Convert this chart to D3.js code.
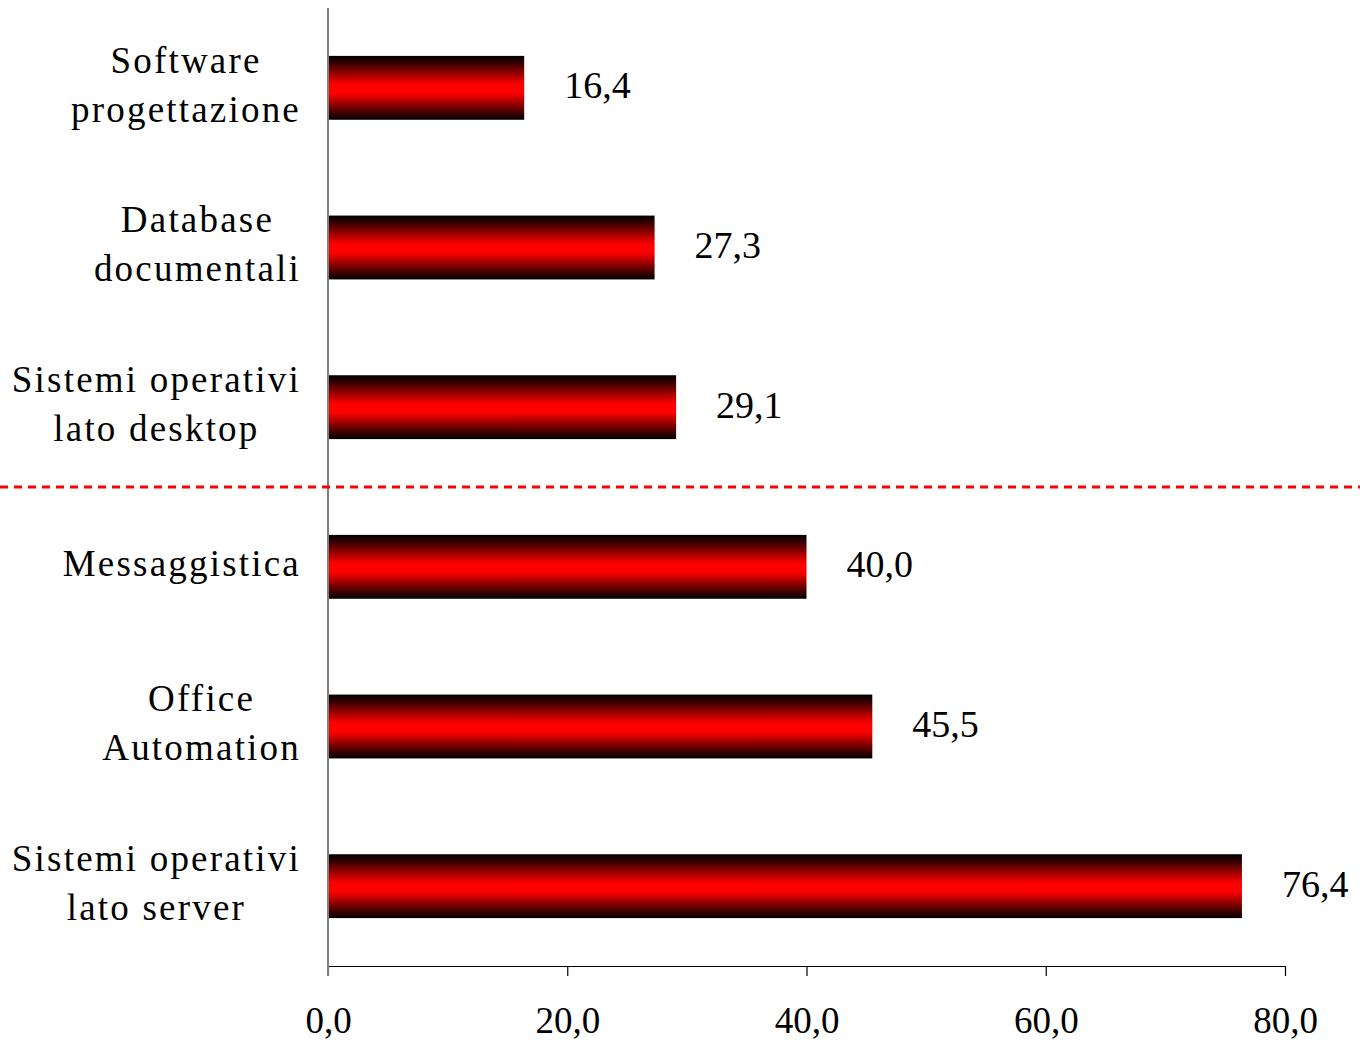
<!DOCTYPE html>
<html>
<head>
<meta charset="utf-8">
<script src="https://cdn.jsdelivr.net/npm/d3@7"></script>
<style>
  html, body { margin: 0; padding: 0; background: #fff; }
  svg { display: block; }
</style>
</head>
<body>
<div id="chart"></div>
<script>
// data, top to bottom
const categories = [
  ['Software', 'progettazione'],
  ['Database', 'documentali'],
  ['Sistemi operativi', 'lato desktop'],
  ['Messaggistica'],
  ['Office', 'Automation'],
  ['Sistemi operativi', 'lato server']
];
const values = [16.4, 27.3, 29.1, 40.0, 45.5, 76.4];
const xTicks = [0, 20, 40, 60, 80];
const separatorAfter = 3; // dashed line between desktop and server groups

const width = 1360;
const height = 1042;
const margin = { top: 8, right: 75, bottom: 76, left: 328 };
const font = '"Liberation Serif", "Times New Roman", serif';
const fmt = d => d.toFixed(1).replace('.', ',');

const svg = d3.select('#chart')
  .append('svg')
  .attr('width', width)
  .attr('height', height);

const defs = svg.append('defs');
const grad = defs.append('linearGradient')
  .attr('id', 'barGrad')
  .attr('x1', 0).attr('y1', 0)
  .attr('x2', 0).attr('y2', 1);
[[0, '#000000'], [0.12, '#3a0000'], [0.45, '#ff0000'], [0.58, '#ff0000'], [0.9, '#3a0000'], [1, '#000000']]
  .forEach(([o, c]) => grad.append('stop').attr('offset', o).attr('stop-color', c));

const x = d3.scaleLinear()
  .domain([0, 80])
  .range([margin.left, width - margin.right]);

const y = d3.scaleBand()
  .domain(d3.range(values.length))
  .range([margin.top, height - margin.bottom])
  .paddingInner(0.6)
  .paddingOuter(0.3);

// bars
svg.append('g')
  .selectAll('rect')
  .data(values)
  .join('rect')
  .attr('x', x(0))
  .attr('y', (d, i) => y(i))
  .attr('width', d => x(d) - x(0))
  .attr('height', y.bandwidth())
  .attr('fill', 'url(#barGrad)');

// value labels
svg.append('g')
  .selectAll('text')
  .data(values)
  .join('text')
  .attr('x', d => x(d) + 40)
  .attr('y', (d, i) => y(i) + y.bandwidth() / 2 - 2)
  .attr('dy', '0.33em')
  .style('font-family', font)
  .style('font-size', '38px')
  .style('fill', '#000')
  .text(fmt);

// x axis
const xAxis = svg.append('g')
  .attr('transform', `translate(0,${height - margin.bottom})`)
  .call(d3.axisBottom(x).tickValues(xTicks).tickSize(10).tickSizeOuter(0).tickFormat(fmt));
xAxis.select('.domain').attr('stroke', '#000').attr('stroke-width', 1.2);
xAxis.selectAll('.tick line').attr('stroke', '#000').attr('stroke-width', 1.2);
xAxis.selectAll('.tick text')
  .attr('y', 41)
  .attr('dy', '0.71em')
  .style('font-family', font)
  .style('font-size', '37px')
  .style('fill', '#000');

// vertical axis line
svg.append('line')
  .attr('x1', x(0)).attr('x2', x(0))
  .attr('y1', margin.top)
  .attr('y2', height - margin.bottom + 10)
  .attr('stroke', '#808080')
  .attr('stroke-width', 2);

// category labels, block right-aligned near the axis, lines centred
const labelRight = x(0) - 27;
const lineH = 49;
categories.forEach((lines, i) => {
  const g = svg.append('g');
  const cy = y(i) + y.bandwidth() / 2 - 3;
  const t = g.selectAll('text')
    .data(lines)
    .join('text')
    .attr('y', (d, j) => cy + (j - (lines.length - 1) / 2) * lineH)
    .attr('dy', '0.33em')
    .attr('text-anchor', 'middle')
    .style('font-family', font)
    .style('font-size', '37px')
    .style('letter-spacing', '2.2px')
    .style('fill', '#000')
    .text(d => d);
  const maxW = d3.max(t.nodes(), n => n.getComputedTextLength());
  t.attr('x', labelRight - maxW / 2);
});

// dashed separator
const sepY = y(separatorAfter) - y.step() * y.paddingInner() / 2;
svg.append('line')
  .attr('x1', 0).attr('x2', width)
  .attr('y1', sepY).attr('y2', sepY)
  .attr('stroke', '#ff0000')
  .attr('stroke-width', 3)
  .attr('stroke-dasharray', '8,6');
</script>
</body>
</html>
